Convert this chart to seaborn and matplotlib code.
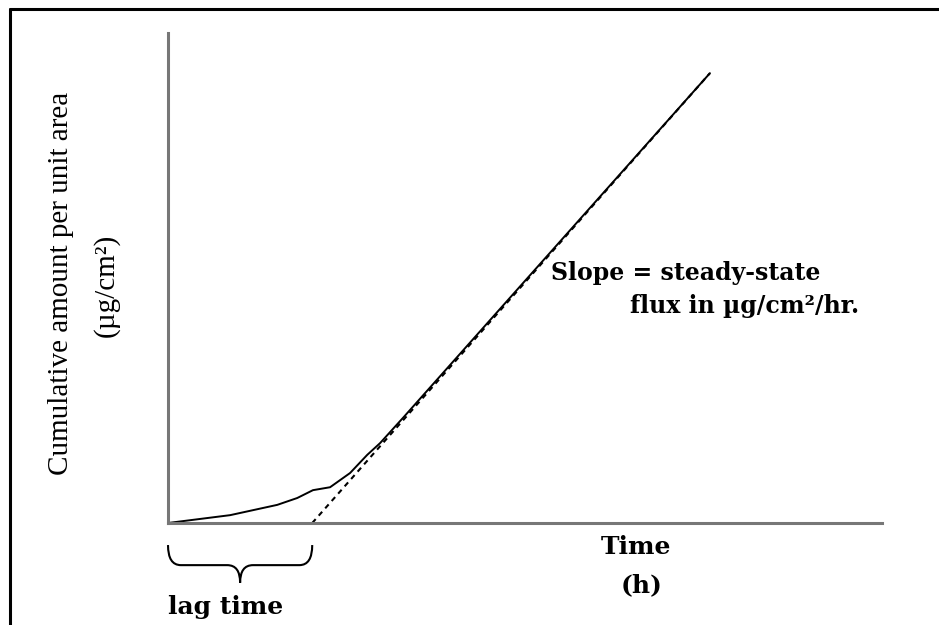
import matplotlib
matplotlib.use("Agg")
import matplotlib.pyplot as plt
import matplotlib.transforms as mtransforms
from matplotlib.path import Path
from matplotlib.patches import PathPatch
from matplotlib.lines import Line2D
import seaborn as sns
import pandas as pd

# Cumulative permeation profile (arbitrary units)
time_h = [0.0, 0.87, 1.53, 1.81, 2.03, 2.27, 2.55, 2.79, 2.97, 3.30, 7.59]
amount = [0.0, 0.16, 0.37, 0.51, 0.67, 0.73, 1.02, 1.39, 1.63, 2.16, 9.18]

# Steady-state extrapolation back to the time axis
lag_time = 2.02
tangent_t = [lag_time, 7.59]
tangent_y = [0.0, 9.18]

y_label_1 = "Cumulative amount per unit area"
y_label_2 = "(µg/cm²)"
slope_1 = "Slope = steady-state"
slope_2 = "flux in µg/cm²/hr."
lag_label = "lag time"

sns.set_style("white")
plt.rcParams["font.family"] = ["DejaVu Serif"]
plt.rcParams["text.color"] = "black"

fig = plt.figure(figsize=(9.39, 6.25), dpi=100)
W, H = 939, 625
ax = fig.add_axes([168 / W, 1 - 523 / H, (882 - 168) / W, (523 - 33) / H])

curve = pd.DataFrame({"t": time_h, "q": amount})
tangent = pd.DataFrame({"t": tangent_t, "q": tangent_y})
sns.lineplot(data=curve, x="t", y="q", ax=ax, color="black", lw=1.4, sort=False)
sns.lineplot(data=tangent, x="t", y="q", ax=ax, color="black", lw=1.5,
             linestyle=(0, (2.5, 2.2)), sort=False)

ax.set_xlim(0, 10)
ax.set_ylim(0, 10)
ax.set_xticks([])
ax.set_yticks([])
ax.set_xlabel("")
ax.set_ylabel("")
for side in ("top", "right"):
    ax.spines[side].set_visible(False)
for side in ("left", "bottom"):
    ax.spines[side].set_color("#777777")
    ax.spines[side].set_linewidth(2.2)
ax.patch.set_alpha(0)

# Axis captions
fig.text(636 / W, 1 - 547 / H, "Time", ha="center", va="center",
         fontsize=18, fontweight="bold", color="black")
fig.text(642 / W, 1 - 585 / H, "(h)", ha="center", va="center",
         fontsize=18, fontweight="bold", color="black")
fig.text(61 / W, 1 - 283 / H, y_label_1, rotation=90, ha="center", va="center",
         fontsize=21, family="Liberation Serif", color="black")
fig.text(106 / W, 1 - 285 / H, y_label_2, rotation=90, ha="center", va="center",
         fontsize=21, family="Liberation Serif", color="black")

# Slope annotation
fig.text(551 / W, 1 - 273 / H, slope_1, ha="left", va="center",
         fontsize=17, fontweight="bold", color="black")
fig.text(630 / W, 1 - 306 / H, slope_2, ha="left", va="center",
         fontsize=17, fontweight="bold", color="black")

# Curly brace marking the lag time below the axis
trans = mtransforms.blended_transform_factory(ax.transData, ax.transAxes)
top, mid, tip = -0.045, -0.086, -0.122
mx = lag_time / 2
r = 0.18
verts = [(0, top), (0, mid), (r, mid),
         (mx - r, mid), (mx, mid), (mx, tip),
         (mx, mid), (mx + r, mid),
         (lag_time - r, mid), (lag_time, mid), (lag_time, top)]
codes = [Path.MOVETO, Path.CURVE3, Path.CURVE3,
         Path.LINETO, Path.CURVE3, Path.CURVE3,
         Path.CURVE3, Path.CURVE3,
         Path.LINETO, Path.CURVE3, Path.CURVE3]
brace = PathPatch(Path(verts, codes), transform=trans, fill=False,
                  edgecolor="black", lw=1.5, clip_on=False)
ax.add_patch(brace)
fig.text(226 / W, 1 - 607 / H, lag_label, ha="center", va="center",
         fontsize=18, fontweight="bold", color="black")

# Outer frame (top and left edges)
fig.add_artist(Line2D([10 / W, 1.0], [1 - 9 / H, 1 - 9 / H], color="black",
                      lw=2.2, transform=fig.transFigure))
fig.add_artist(Line2D([10 / W, 10 / W], [1 - 9 / H, 0.0], color="black",
                      lw=2.2, transform=fig.transFigure))

fig.savefig("out.png", dpi=100)
